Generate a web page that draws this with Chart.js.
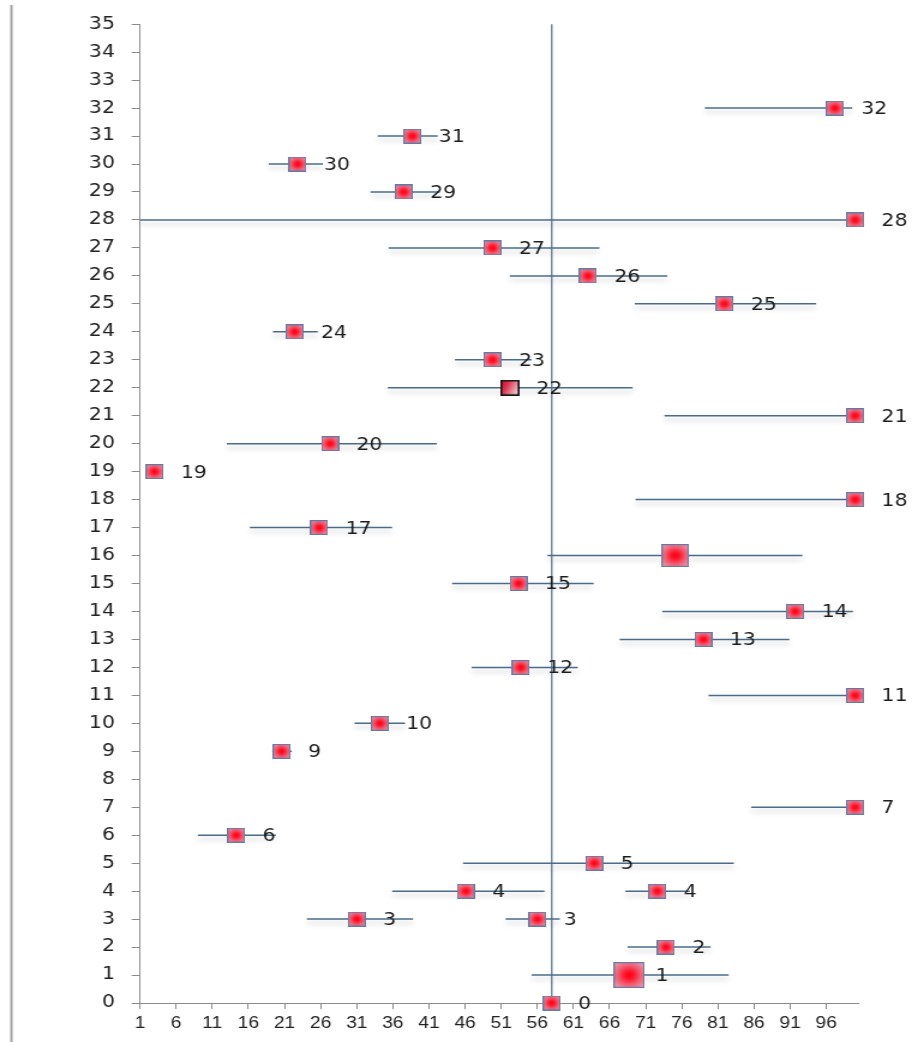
<!DOCTYPE html>
<html>
<head>
<meta charset="utf-8">
<script src="https://cdn.jsdelivr.net/npm/chart.js@4/dist/chart.umd.min.js"></script>
<style>
  html, body { margin: 0; padding: 0; background: #fff; overflow: hidden; }
</style>
</head>
<body>
<canvas id="chart" width="770" height="1042" style="display:block;width:924px;height:1042px"></canvas>
<script>
// Point estimates (x) and their row (y)
const xValues = [58, 68.7, 73.8, 31.0, 56.0, 46.1, 72.6, 63.9, 14.3, 100, 20.6, 34.2, 100, 53.7, 79.0, 91.7, 53.4, 75.1, 25.8, 100, 3.0, 27.3, 100, 52.2, 49.8, 22.4, 81.9, 63.0, 49.8, 100, 37.5, 22.8, 38.7, 97.2];
const yValues = [0, 1, 2, 3, 3, 4, 4, 5, 6, 7, 9, 10, 11, 12, 13, 14, 15, 16, 17, 18, 19, 20, 21, 22, 23, 24, 25, 26, 27, 28, 29, 30, 31, 32];

// Horizontal interval ends (null = no interval)
const xLow  = [null, 55.2, 68.5, 24.1, 51.6, 35.9, 68.2, 45.7, 9.0, 85.6, 19.3, 30.7, 79.7, 46.9, 67.4, 73.3, 44.2, 57.4, 16.2, 69.6, null, 13.0, 73.6, 35.3, 44.6, 19.4, 69.5, 52.2, 35.4, 1, 32.9, 18.8, 33.9, 79.2];
const xHigh = [null, 82.5, 80.0, 38.8, 59.1, 57.0, 77.1, 83.2, 19.8, 100, 22.0, 37.7, 100, 61.6, 90.9, 99.7, 63.8, 92.7, 35.9, 100, null, 42.1, 100, 69.2, 55.2, 25.6, 94.6, 74.0, 64.6, 100, 42.5, 26.3, 42.2, 99.6];
// Vertical interval top (only the first point has one)
const yHigh = [35, null, null, null, null, null, null, null, null, null, null, null, null, null, null, null, null, null, null, null, null, null, null, null, null, null, null, null, null, null, null, null, null, null];

// Marker kind per point: 0 = normal, 1 = large, 2 = medium, 3 = dark outline
const markerKind = [0, 1, 0, 0, 0, 0, 0, 0, 0, 0, 0, 0, 0, 0, 0, 0, 0, 2, 0, 0, 0, 0, 0, 3, 0, 0, 0, 0, 0, 0, 0, 0, 0, 0];
// Whether the row number is printed next to the marker
const showLabel = [1, 1, 1, 1, 1, 1, 1, 1, 1, 1, 1, 1, 1, 1, 1, 1, 1, 0, 1, 1, 1, 1, 1, 1, 1, 1, 1, 1, 1, 1, 1, 1, 1, 1];

// Axis tick values
const xTickValues = [1, 6, 11, 16, 21, 26, 31, 36, 41, 46, 51, 56, 61, 66, 71, 76, 81, 86, 91, 96];
const yTickValues = [0, 1, 2, 3, 4, 5, 6, 7, 8, 9, 10, 11, 12, 13, 14, 15, 16, 17, 18, 19, 20, 21, 22, 23, 24, 25, 26, 27, 28, 29, 30, 31, 32, 33, 34, 35];

const AXIS_COLOR = '#8a8a8a';
const BAR_COLOR = '#4a6c8a';

function makeMarker(size, dark) {
  const c = document.createElement('canvas');
  c.width = size; c.height = size;
  const g = c.getContext('2d');
  if (dark) {
    const lg = g.createLinearGradient(0, 0, size, size * 0.5);
    lg.addColorStop(0, '#c2001f');
    lg.addColorStop(0.45, '#dc3a55');
    lg.addColorStop(1, '#f6c4cd');
    g.fillStyle = lg;
    g.fillRect(0, 0, size, size);
    g.strokeStyle = '#151515';
    g.lineWidth = 1.6;
    g.strokeRect(0.8, 0.8, size - 1.6, size - 1.6);
  } else {
    const r = size / 2;
    const rg = g.createRadialGradient(r, r, 0, r, r, r * 1.25);
    rg.addColorStop(0, '#ff0010');
    rg.addColorStop(0.22, '#ff1228');
    rg.addColorStop(0.55, '#f2576c');
    rg.addColorStop(1, '#e9a0ae');
    g.fillStyle = rg;
    g.fillRect(0, 0, size, size);
    g.strokeStyle = '#6578a6';
    g.lineWidth = 1.2;
    g.strokeRect(0.6, 0.6, size - 1.2, size - 1.2);
  }
  return c;
}

const markers = [makeMarker(15, false), makeMarker(26, false), makeMarker(23, false), makeMarker(16, true)];

const frameLine = {
  id: 'frameLine',
  beforeDraw(chart) {
    const ctx = chart.ctx;
    ctx.save();
    ctx.strokeStyle = '#a3a3a3';
    ctx.lineWidth = 2;
    ctx.beginPath();
    ctx.moveTo(9.5, 5);
    ctx.lineTo(9.5, chart.height);
    ctx.stroke();
    ctx.restore();
  }
};

const intervals = {
  id: 'intervals',
  beforeDatasetsDraw(chart) {
    const ctx = chart.ctx;
    const xs = chart.scales.x, ys = chart.scales.y;
    const area = chart.chartArea;
    ctx.save();
    ctx.beginPath();
    ctx.rect(area.left, area.top - 2, area.right - area.left, area.bottom - area.top + 4);
    ctx.clip();
    // vertical intervals
    ctx.strokeStyle = BAR_COLOR;
    ctx.lineWidth = 1.2;
    yHigh.forEach((hi, i) => {
      if (hi === null) return;
      const px = xs.getPixelForValue(xValues[i]);
      ctx.beginPath();
      ctx.moveTo(px, ys.getPixelForValue(yValues[i]));
      ctx.lineTo(px, ys.getPixelForValue(hi));
      ctx.stroke();
    });
    // horizontal intervals with a soft shadow underneath
    ctx.shadowColor = 'rgba(80,85,100,0.32)';
    ctx.shadowBlur = 5;
    ctx.shadowOffsetX = 0;
    ctx.shadowOffsetY = 4;
    ctx.lineWidth = 1.5;
    xLow.forEach((lo, i) => {
      if (lo === null) return;
      const py = ys.getPixelForValue(yValues[i]);
      ctx.beginPath();
      ctx.moveTo(xs.getPixelForValue(lo), py);
      ctx.lineTo(xs.getPixelForValue(xHigh[i]), py);
      ctx.stroke();
    });
    ctx.restore();
  }
};

const rowLabels = {
  id: 'rowLabels',
  afterDatasetsDraw(chart) {
    const ctx = chart.ctx;
    const meta = chart.getDatasetMeta(0);
    ctx.save();
    ctx.font = '17px "DejaVu Sans", Verdana, sans-serif';
    ctx.fillStyle = '#1c1c1c';
    ctx.textAlign = 'left';
    ctx.textBaseline = 'middle';
    meta.data.forEach((pt, i) => {
      if (!showLabel[i]) return;
      ctx.fillText(String(yValues[i]), pt.x + 22, pt.y + 1.5);
    });
    ctx.restore();
  }
};

new Chart(document.getElementById('chart'), {
  type: 'scatter',
  data: {
    datasets: [{
      data: xValues.map((x, i) => ({ x: x, y: yValues[i] })),
      pointStyle: (c) => markers[markerKind[c.dataIndex]],
      pointRadius: 7,
      clip: false
    }]
  },
  options: {
    responsive: false,
    animation: false,
    devicePixelRatio: 1,
    layout: { padding: { top: 16, right: 55, left: 0, bottom: 0 } },
    plugins: { legend: { display: false }, tooltip: { enabled: false } },
    scales: {
      x: {
        type: 'linear',
        min: 1,
        max: 100.4,
        afterBuildTicks: (s) => { s.ticks = xTickValues.map(v => ({ value: v })); },
        afterFit: (s) => { s.height = 39; },
        border: { display: true, color: AXIS_COLOR, width: 1 },
        grid: { drawOnChartArea: false, drawTicks: true, tickLength: 6, color: AXIS_COLOR },
        ticks: {
          maxRotation: 0,
          autoSkip: false,
          padding: 5,
          color: '#222',
          font: { family: '"Liberation Sans Narrow", "Liberation Sans", Arial, sans-serif', size: 16 }
        }
      },
      y: {
        type: 'linear',
        min: 0,
        max: 35,
        afterBuildTicks: (s) => { s.ticks = yTickValues.map(v => ({ value: v })); },
        afterFit: (s) => { s.width = 116.7; },
        border: { display: true, color: AXIS_COLOR, width: 1 },
        grid: { drawOnChartArea: false, drawTicks: true, tickLength: 7, color: AXIS_COLOR },
        ticks: {
          autoSkip: false,
          padding: 14,
          color: '#222',
          font: { family: '"DejaVu Sans", Verdana, sans-serif', size: 17 }
        }
      }
    }
  },
  plugins: [frameLine, intervals, rowLabels]
});
</script>
</body>
</html>
